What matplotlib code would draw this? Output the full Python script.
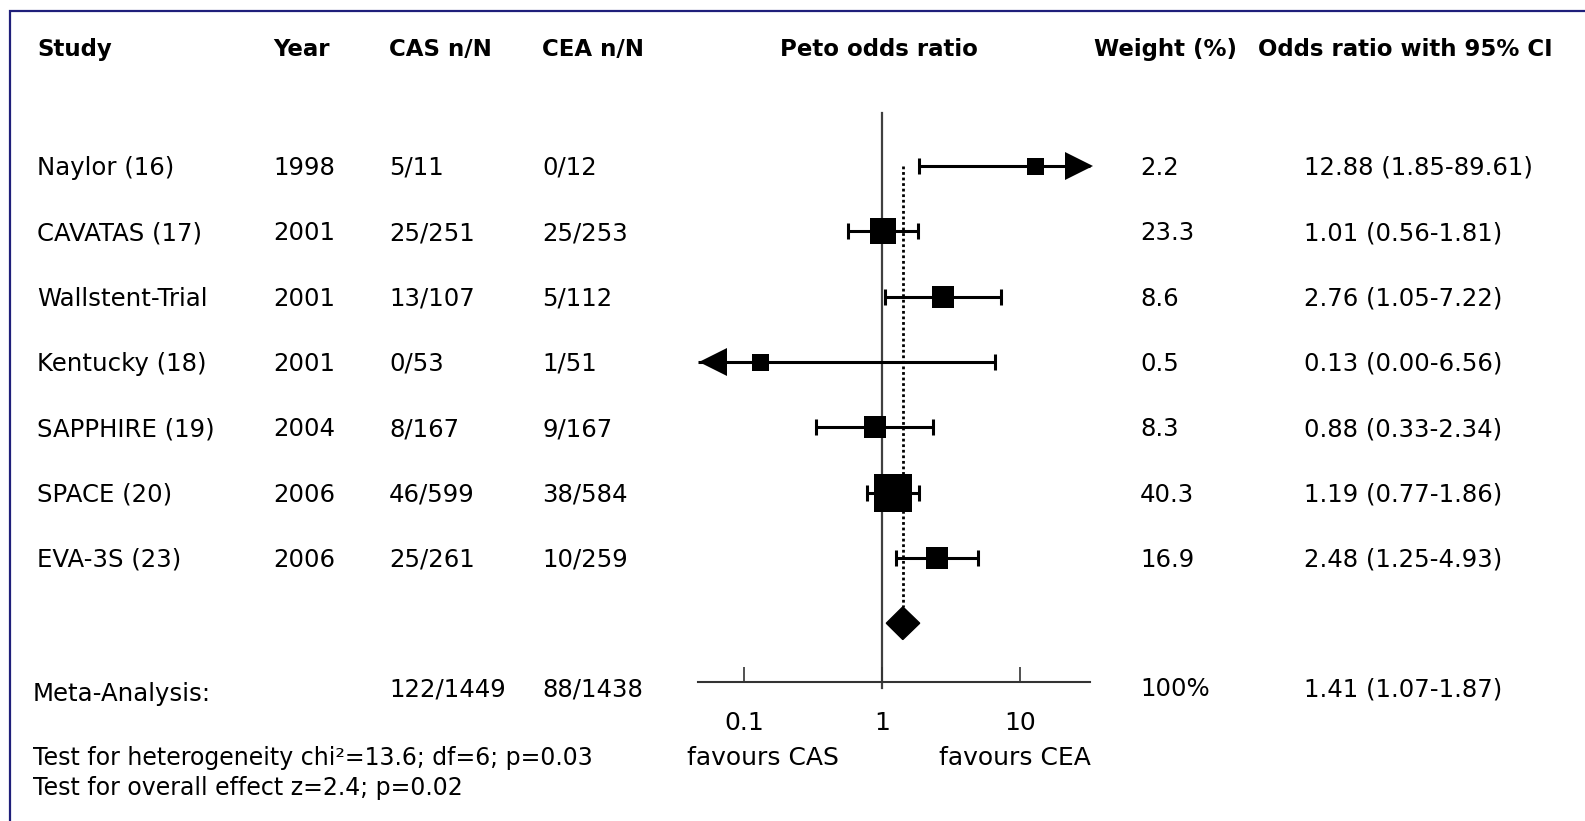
import numpy as np
import matplotlib
matplotlib.use('Agg')
import matplotlib.pyplot as plt
from matplotlib.patches import Polygon, Rectangle
from matplotlib.transforms import blended_transform_factory, offset_copy

# data
studies = ['Naylor (16)', 'CAVATAS (17)', 'Wallstent-Trial', 'Kentucky (18)',
           'SAPPHIRE (19)', 'SPACE (20)', 'EVA-3S (23)']
years = ['1998', '2001', '2001', '2001', '2004', '2006', '2006']
cas_nN = ['5/11', '25/251', '13/107', '0/53', '8/167', '46/599', '25/261']
cea_nN = ['0/12', '25/253', '5/112', '1/51', '9/167', '38/584', '10/259']
odds = [12.88, 1.01, 2.76, 0.13, 0.88, 1.19, 2.48]
ci_lo = [1.85, 0.56, 1.05, 0.00, 0.33, 0.77, 1.25]
ci_hi = [89.61, 1.81, 7.22, 6.56, 2.34, 1.86, 4.93]
weights = [2.2, 23.3, 8.6, 0.5, 8.3, 40.3, 16.9]

pooled_or = 1.41
pooled_lo = 1.07
pooled_hi = 1.87
cas_total = '122/1449'
cea_total = '88/1438'
het_text = 'Test for heterogeneity chi\u00b2=13.6; df=6; p=0.03'
eff_text = 'Test for overall effect z=2.4; p=0.02'

# box side (pixels) as drawn in the figure
box_px = [17, 27, 22, 17, 22, 38, 22]

W, H = 1585, 821
fig = plt.figure(figsize=(W / 100, H / 100), dpi=100)
fx = lambda p: p / W
fy = lambda p: 1 - p / H

# forest axes
ax = fig.add_axes([fx(698), fy(682), fx(1090 - 698), (682 - 113) / H])
ax.set_xscale('log')
xmin, xmax = 0.046, 32.2
ax.set_xlim(xmin, xmax)
n = len(studies)
ax.set_ylim(n + 0.90, -0.81)
for s in ['left', 'top', 'right']:
    ax.spines[s].set_visible(False)
ax.spines['bottom'].set_color('#333333')
ax.spines['bottom'].set_linewidth(1.5)
ax.set_yticks([])
ax.set_xticks([0.1, 1, 10], ['0.1', '1', '10'])
ax.minorticks_off()
ax.tick_params(axis='x', direction='in', length=11, width=1.2, color='#333333',
               pad=21, labelsize=18)
ax.patch.set_alpha(0)

ax.axvline(1, ymin=-0.011, ymax=1, color='#404040', lw=1.6, clip_on=False, zorder=1)

lw = 2.2
right_arrow = offset_copy(ax.transData, fig=fig, x=-11, y=0, units='dots')
left_arrow = offset_copy(ax.transData, fig=fig, x=15, y=0, units='dots')
for i in range(n):
    lo = max(ci_lo[i], xmin)
    hi = min(ci_hi[i], xmax)
    ax.plot([lo, hi], [i, i], color='k', lw=lw, solid_capstyle='butt', zorder=3,
            clip_on=False)
    if ci_lo[i] >= xmin:
        ax.plot([ci_lo[i]], [i], marker='|', ms=12, mew=lw, color='k', zorder=3)
    else:
        ax.plot([xmin], [i], marker='<', ms=19.5, mew=0, color='k', zorder=4,
                transform=left_arrow, clip_on=False)
    if ci_hi[i] <= xmax:
        ax.plot([ci_hi[i]], [i], marker='|', ms=12, mew=lw, color='k', zorder=3)
    else:
        ax.plot([xmax], [i], marker='>', ms=19.5, mew=0, color='k', zorder=4,
                transform=right_arrow, clip_on=False)
    ax.plot([odds[i]], [i], marker='s', ms=box_px[i] * 0.72, mew=0, color='k',
            zorder=5)

# pooled diamond and dotted line
dh = 0.25
ax.plot([pooled_or, pooled_or], [0, n - dh], color='k', lw=2.0,
        linestyle=(0, (1, 1)), zorder=2)
ax.add_patch(Polygon([(pooled_lo, n), (pooled_or, n - dh), (pooled_hi, n),
                      (pooled_or, n + dh)], closed=True, color='k', zorder=5))

fs = 17.6
# headers
hy = fy(56)
fig.text(fx(37), hy, 'Study', fontsize=16.5, fontweight='bold', va='baseline')
fig.text(fx(273), hy, 'Year', fontsize=16.5, fontweight='bold', va='baseline')
fig.text(fx(389), hy, 'CAS n/N', fontsize=16.5, fontweight='bold', va='baseline')
fig.text(fx(542), hy, 'CEA n/N', fontsize=16.5, fontweight='bold', va='baseline')
fig.text(fx(879), hy, 'Peto odds ratio', fontsize=16.5, fontweight='bold',
         va='baseline', ha='center')
fig.text(fx(1094), hy, 'Weight (%)', fontsize=16.5, fontweight='bold', va='baseline')
fig.text(fx(1258), hy, 'Odds ratio with 95% CI', fontsize=16.5, fontweight='bold',
         va='baseline')

# rows
tr = offset_copy(blended_transform_factory(fig.transFigure, ax.transData),
                 fig=fig, x=0, y=-9, units='dots')
for i in range(n):
    kw = dict(transform=tr, fontsize=fs, va='baseline')
    fig.text(fx(37), i, studies[i], **kw)
    fig.text(fx(273), i, years[i], **kw)
    fig.text(fx(389), i, cas_nN[i], **kw)
    fig.text(fx(542), i, cea_nN[i], **kw)
    fig.text(fx(1140), i, f'{weights[i]:.1f}', **kw)
    fig.text(fx(1304), i, f'{odds[i]:.2f} ({ci_lo[i]:.2f}-{ci_hi[i]:.2f})', **kw)

# meta-analysis row
my = n + 0.98
kw = dict(transform=tr, fontsize=fs, va='baseline')
fig.text(fx(33), my + 0.07, 'Meta-Analysis:', **kw)
fig.text(fx(389), my, cas_total, **kw)
fig.text(fx(542), my, cea_total, **kw)
fig.text(fx(1140), my, f'{sum(weights):.0f}%', **kw)
fig.text(fx(1304), my, f'{pooled_or:.2f} ({pooled_lo:.2f}-{pooled_hi:.2f})', **kw)

# favours labels
ax.text(0.166, fy(765), 'favours CAS', transform=blended_transform_factory(ax.transAxes, fig.transFigure),
        ha='center', va='baseline', fontsize=18)
ax.text(0.809, fy(765), 'favours CEA', transform=blended_transform_factory(ax.transAxes, fig.transFigure),
        ha='center', va='baseline', fontsize=18)

# test lines
fig.text(fx(33), fy(765), het_text, fontsize=17, va='baseline')
fig.text(fx(33), fy(795), eff_text, fontsize=17, va='baseline')

# frame
fig.add_artist(Rectangle((fx(10), -0.2), 2, fy(11) + 0.2, transform=fig.transFigure,
                         fill=False, ec='#1f1f7a', lw=1.6))

fig.savefig('out.png', dpi=100)
